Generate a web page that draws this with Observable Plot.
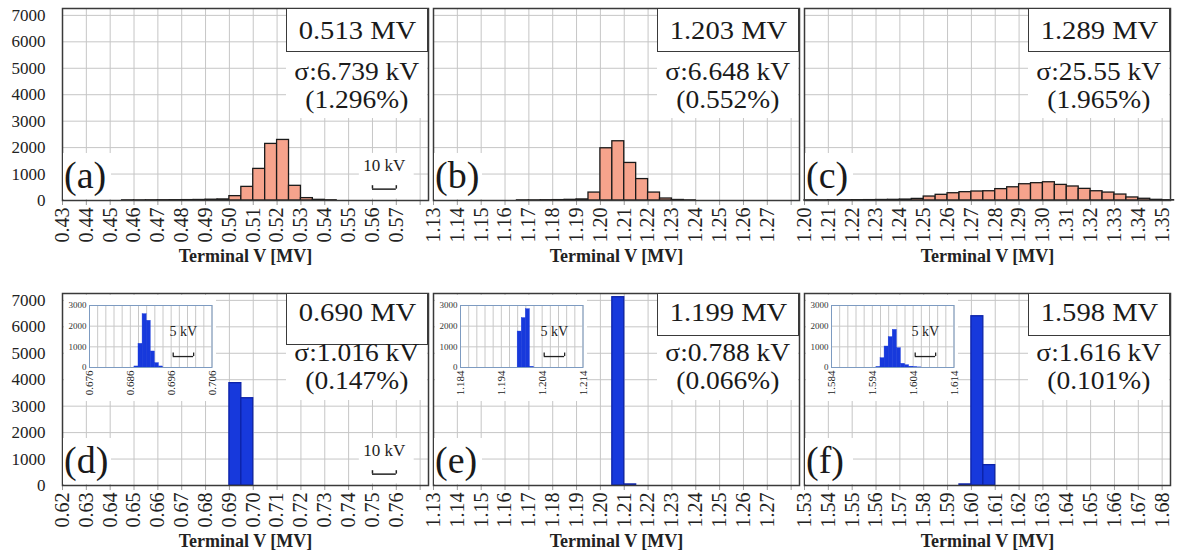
<!DOCTYPE html>
<html>
<head>
<meta charset="utf-8">
<script src="https://cdn.jsdelivr.net/npm/d3@7"></script>
<script src="https://cdn.jsdelivr.net/npm/@observablehq/plot@0.6"></script>
<style>
html,body{margin:0;padding:0;background:#fff;}
#fig{position:relative;width:1178px;height:556px;overflow:hidden;font-family:"Liberation Serif","Times New Roman",Times,"DejaVu Serif",serif;color:#1a1a1a;}
#fig svg, #fig svg text{font-family:"Liberation Serif","Times New Roman",Times,"DejaVu Serif",serif !important;}
.abs{position:absolute;}
.panel svg,.inset svg{display:block;overflow:visible;}
.inset{background:#fff;}
.vbox{border:1.5px solid #3a3a3a;box-sizing:border-box;background:#fff;font-size:26px;text-align:center;white-space:nowrap;}
.wbg{background:#fff;}
.line{font-size:25px;text-align:center;white-space:nowrap;height:24px;line-height:24px;}
.line span,.vbox span{display:inline-block;transform:scaleX(1.1);}
.tag{background:#fff;font-size:38px;line-height:44px;padding-left:1px;box-sizing:border-box;}
[aria-label="x-axis label"] text{font-weight:bold;font-size:18px;}
</style>
</head>
<body>
<div id="fig"></div>
<script>
// ---------- data ----------
const yTicks = [0, 1000, 2000, 3000, 4000, 5000, 6000, 7000];
const insetYTicks = [0, 1000, 2000, 3000];

const aTicks = [0.43,0.44,0.45,0.46,0.47,0.48,0.49,0.50,0.51,0.52,0.53,0.54,0.55,0.56,0.57];
const bTicks = [1.13,1.14,1.15,1.16,1.17,1.18,1.19,1.20,1.21,1.22,1.23,1.24,1.25,1.26,1.27];
const cTicks = [1.20,1.21,1.22,1.23,1.24,1.25,1.26,1.27,1.28,1.29,1.30,1.31,1.32,1.33,1.34,1.35];
const dTicks = [0.62,0.63,0.64,0.65,0.66,0.67,0.68,0.69,0.70,0.71,0.72,0.73,0.74,0.75,0.76];
const eTicks = [1.13,1.14,1.15,1.16,1.17,1.18,1.19,1.20,1.21,1.22,1.23,1.24,1.25,1.26,1.27];
const fTicks = [1.53,1.54,1.55,1.56,1.57,1.58,1.59,1.60,1.61,1.62,1.63,1.64,1.65,1.66,1.67,1.68];

// 5 kV bins (bin start, count)
const aBins = [0.455,0.46,0.465,0.47,0.475,0.48,0.485,0.49,0.495,0.50,0.505,0.51,0.515,0.52,0.525,0.53,0.535,0.54];
const aCounts = [5,5,8,10,12,15,20,30,40,165,515,1195,2140,2290,555,90,25,8];
const bBins = [1.165,1.17,1.175,1.18,1.185,1.19,1.195,1.20,1.205,1.21,1.215,1.22,1.225,1.23,1.235];
const bCounts = [5,5,10,15,25,40,300,1975,2240,1420,810,300,75,20,5];
const cBins = [1.20,1.205,1.21,1.215,1.22,1.225,1.23,1.235,1.24,1.245,1.25,1.255,1.26,1.265,1.27,1.275,1.28,1.285,1.29,1.295,1.30,1.305,1.31,1.315,1.32,1.325,1.33,1.335,1.34,1.345,1.35];
const cCounts = [5,5,8,10,12,15,20,25,35,60,150,215,275,315,340,350,430,500,615,655,690,590,530,440,350,300,225,115,65,25,10];
const dBins = [0.69,0.695];
const dCounts = [3870,3300];
const eBins = [1.205,1.21];
const eCounts = [7120,40];
const fBins = [1.595,1.60,1.605];
const fCounts = [40,6400,770];

// 1 kV inset bins
const dInsetTicks = [0.676,0.686,0.696,0.706];
const dInsetBins = [0.687,0.688,0.689,0.690,0.691,0.692,0.693];
const dInsetCounts = [50,1145,2580,2260,775,210,50];
const eInsetTicks = [1.184,1.194,1.204,1.214];
const eInsetBins = [1.198,1.199,1.200,1.201];
const eInsetCounts = [1740,2390,2820,30];
const fInsetTicks = [1.584,1.594,1.604,1.614];
const fInsetBins = [1.595,1.596,1.597,1.598,1.599,1.600,1.601,1.602,1.603,1.604,1.605];
const fInsetCounts = [20,450,1015,1470,1820,935,180,110,40,15,5];

// annotations
const tags = ["(a)","(b)","(c)","(d)","(e)","(f)"];
const peakV = ["0.513 MV","1.203 MV","1.289 MV","0.690 MV","1.199 MV","1.598 MV"];
const sigmaV = ["σ:6.739 kV","σ:6.648 kV","σ:25.55 kV","σ:1.016 kV","σ:0.788 kV","σ:1.616 kV"];
const sigmaPct = ["(1.296%)","(0.552%)","(1.965%)","(0.147%)","(0.066%)","(0.101%)"];
const mainScaleBars = {a: {x1: 0.56, x2: 0.57, label: "10 kV"}, d: {x1: 0.75, x2: 0.76, label: "10 kV"}};
const insetScaleBars = {d: {x1: 0.6965, x2: 0.7015, label: "5 kV"}, e: {x1: 1.2045, x2: 1.2095, label: "5 kV"}, f: {x1: 1.6045, x2: 1.6095, label: "5 kV"}};

// ---------- layout / style ----------
const FONT = '"Liberation Serif","Times New Roman",Times,"DejaVu Serif",serif';
const SALMON = "#f6a38c", BLUE = "#1739dc";
const span = 0.1535, binW = 0.005, insetBinW = 0.001, yMax = 7260;
const PW = 366, PH = 192;
const colL = [62, 433, 804], rowT = [8, 293];

const fig = document.getElementById("fig");
function addDiv(cls, left, top, w, h, txt, wrap) {
  const d = document.createElement("div");
  d.className = "abs " + cls;
  d.style.left = left + "px"; d.style.top = top + "px";
  if (w != null) d.style.width = w + "px";
  if (h != null) d.style.height = h + "px";
  if (txt != null) {
    if (wrap) { const s = document.createElement("span"); s.textContent = txt; d.appendChild(s); }
    else d.textContent = txt;
  }
  fig.appendChild(d);
  return d;
}

function mainPlot(p) {
  const ml = p.yAxis ? 62 : 8, mr = 8, mt = 8, mb = 72;
  const lo = p.ticks[0], hi = lo + span;
  const grid = d3.range(Math.round(lo * 100), Math.floor(hi * 100 + 1e-6) + 1).map(k => k / 100);
  const labelSet = new Set(p.ticks.map(t => t.toFixed(2)));
  const bars = p.bins.map((b, i) => ({x1: b, x2: b + binW, n: p.counts[i]}));
  const marks = [
    Plot.gridX(grid, {stroke: "#c6c6c6", strokeOpacity: 1}),
    Plot.gridY(yTicks.slice(1), {stroke: "#c6c6c6", strokeOpacity: 1})
  ];
  const s = p.scaleBar;
  if (s) {
    marks.push(Plot.rect([s], {x1: d => d.x1 - 0.0055, x2: d => d.x2 + 0.0075, y1: () => 60, y2: () => 1780, fill: "white"}));
    marks.push(Plot.ruleY([s], {x1: "x1", x2: "x2", y: () => 430, stroke: "#222", strokeWidth: 1.5}));
    marks.push(Plot.ruleX([s.x1, s.x2], {y1: () => 430, y2: () => 560, stroke: "#222", strokeWidth: 1.5}));
    marks.push(Plot.text([s], {x: d => (d.x1 + d.x2) / 2, y: () => 1330, text: "label", fontSize: 17, fill: "#222", fontFamily: FONT}));
  }
  marks.push(Plot.rectY(bars, {x1: "x1", x2: "x2", y: "n", fill: p.fill, stroke: p.stroke, strokeWidth: 1.3}));
  marks.push(Plot.axisX(grid, {
    tickRotate: -90, tickSize: 5, tickPadding: 2, stroke: "#9a9a9a", fill: "#222", fontSize: 20, fontFamily: FONT,
    tickFormat: d => labelSet.has(d.toFixed(2)) ? d.toFixed(2) : "",
    label: "Terminal V [MV]", labelAnchor: "center", labelArrow: "none", labelOffset: 61
  }));
  if (p.yAxis) marks.push(Plot.axisY(yTicks, {tickSize: 0, tickPadding: 17, fontSize: 17, fill: "#222", fontFamily: FONT, tickFormat: d => String(d), label: null}));
  marks.push(Plot.frame({stroke: "#3a3a3a", strokeWidth: 1.5}));
  const plot = Plot.plot({
    width: ml + PW + mr, height: mt + PH + mb,
    marginLeft: ml, marginRight: mr, marginTop: mt, marginBottom: mb,
    style: {fontFamily: FONT, background: "transparent", color: "#222", overflow: "visible"},
    x: {domain: [lo, hi]},
    y: {domain: [0, yMax], axis: p.yAxis ? undefined : null},
    marks
  });
  const holder = addDiv("panel", p.L - ml, p.T - mt);
  holder.appendChild(plot);
}

function insetPlot(p) {
  const ml = 25, mr = 5, mt = 10, mb = 34, W = 122.5, H = 62;
  const t0 = p.ticks[0], t1 = p.ticks[p.ticks.length - 1];
  const grid = d3.range(0, Math.round((t1 - t0) / 0.002) + 1).map(k => +(t0 + k * 0.002).toFixed(3));
  const bars = p.bins.map((b, i) => ({x1: b, x2: b + insetBinW, n: p.counts[i]}));
  const s = p.scaleBar;
  const plot = Plot.plot({
    width: ml + W + mr, height: mt + H + mb,
    marginLeft: ml, marginRight: mr, marginTop: mt, marginBottom: mb,
    style: {fontFamily: FONT, background: "transparent", color: "#222", overflow: "visible"},
    x: {domain: [t0, t1]}, y: {domain: [0, 3000]},
    marks: [
      Plot.gridX(grid, {stroke: "#c8c8c8", strokeOpacity: 1}),
      Plot.gridY(insetYTicks.slice(1), {stroke: "#c8c8c8", strokeOpacity: 1}),
      Plot.rectY(bars, {x1: "x1", x2: "x2", y: "n", fill: BLUE, stroke: BLUE, strokeWidth: 0.4}),
      Plot.ruleY([s], {x1: "x1", x2: "x2", y: () => 530, stroke: "#222", strokeWidth: 1.3}),
      Plot.ruleX([s.x1, s.x2], {y1: () => 530, y2: () => 700, stroke: "#222", strokeWidth: 1.3}),
      Plot.text([s], {x: d => (d.x1 + d.x2) / 2, y: () => 1760, text: "label", fontSize: 14, fill: "#222", fontFamily: FONT}),
      Plot.axisY(insetYTicks, {tickSize: 0, tickPadding: 3, fontSize: 9, fill: "#333", fontFamily: FONT, tickFormat: d => String(d), label: null}),
      Plot.axisX(p.ticks, {tickRotate: -90, tickSize: 0, tickPadding: 3, fontSize: 11, fill: "#222", fontFamily: FONT, tickFormat: d => d.toFixed(3), label: null}),
      Plot.frame({stroke: "#7d9bc1", strokeWidth: 1})
    ]
  });
  const holder = addDiv("inset", p.L + 1.5, p.T + 1.5, ml + W + mr, mt + H + mb);
  holder.appendChild(plot);
}

function overlays(i, L, T, row, boxH) {
  const R = L + PW;
  const c1 = row === 0 ? 64 : 60, c2 = row === 0 ? 92 : 88, bc = row === 0 ? 23.5 : 20;
  const wBottom = row === 0 ? 110 : 107;
  addDiv("wbg", R - 142, T + boxH, 140.5, wBottom - boxH);
  const box = addDiv("vbox", R - 142, T, 142, boxH, peakV[i], true);
  box.style.lineHeight = (2 * bc - 3) + "px";
  addDiv("line", R - 142, T + c1 - 12, 142, 24, sigmaV[i], true);
  addDiv("line", R - 142, T + c2 - 12, 142, 24, sigmaPct[i], true);
  addDiv("tag", L + 1, T + PH - 47, 48, 45.5, tags[i]);
}

const panels = [
  {ticks: aTicks, bins: aBins, counts: aCounts, scaleBar: mainScaleBars.a},
  {ticks: bTicks, bins: bBins, counts: bCounts},
  {ticks: cTicks, bins: cBins, counts: cCounts},
  {ticks: dTicks, bins: dBins, counts: dCounts, scaleBar: mainScaleBars.d,
    inset: {ticks: dInsetTicks, bins: dInsetBins, counts: dInsetCounts, scaleBar: insetScaleBars.d}},
  {ticks: eTicks, bins: eBins, counts: eCounts,
    inset: {ticks: eInsetTicks, bins: eInsetBins, counts: eInsetCounts, scaleBar: insetScaleBars.e}},
  {ticks: fTicks, bins: fBins, counts: fCounts,
    inset: {ticks: fInsetTicks, bins: fInsetBins, counts: fInsetCounts, scaleBar: insetScaleBars.f}}
];
const boxHeights = [44, 44, 44, 52, 43, 43];

panels.forEach((p, i) => {
  const row = Math.floor(i / 3), col = i % 3;
  p.L = colL[col]; p.T = rowT[row];
  p.yAxis = col === 0;
  p.fill = row === 0 ? SALMON : BLUE;
  p.stroke = row === 0 ? "#1a1a1a" : "#0c22a8";
  mainPlot(p);
  if (p.inset) insetPlot({...p.inset, L: p.L, T: p.T});
  overlays(i, p.L, p.T, row, boxHeights[i]);
});
</script>
</body>
</html>
